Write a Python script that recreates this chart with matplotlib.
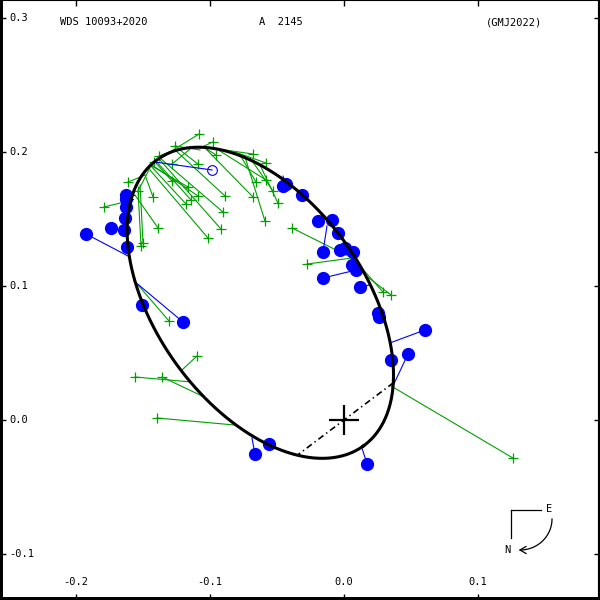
import numpy as np
import matplotlib
matplotlib.use("Agg")
import matplotlib.pyplot as plt

plt.rcParams['lines.scale_dashes'] = False

# ---------------- orbit (apparent ellipse, arcsec) ----------------
orb_center = (-0.06244, 0.08748)
orb_a = 0.13166
orb_b = 0.07760
orb_pa_deg = -54.276          # direction of major axis
node_deg = 37.0               # line of nodes through the primary

# ---------------- texts ----------------
title_left = "WDS 10093+2020"
title_mid = "A  2145"
title_right = "(GMJ2022)"
xticks = [-0.2, -0.1, 0.0, 0.1]
xtick_labels = ["-0.2", "-0.1", "0.0", "0.1"]
yticks = [0.3, 0.2, 0.1, 0.0, -0.1]
ytick_labels = ["0.3", "0.2", "0.1", "0.0", "-0.1"]

# ---------------- interferometric measures (blue): observed and predicted ----------------
blue_x = [-0.1925, -0.1739, -0.1642, -0.1634, -0.1627, -0.1627, -0.1627, -0.1619, -0.1507, -0.1201,
          -0.0664, -0.0560, 0.0172, 0.0351, 0.0478, 0.0604, 0.0254, 0.0261, 0.0119, -0.0157,
          -0.0157, -0.0194, -0.0090, -0.0045, -0.0030, 0.0007, 0.0067, 0.0060, 0.0090, -0.0313,
          -0.0455, -0.0433]
blue_y = [0.1388, 0.1433, 0.1418, 0.1507, 0.1590, 0.1649, 0.1679, 0.1291, 0.0858, 0.0731,
          -0.0254, -0.0179, -0.0328, 0.0448, 0.0493, 0.0672, 0.0799, 0.0769, 0.0993, 0.1060,
          0.1254, 0.1485, 0.1493, 0.1396, 0.1269, 0.1284, 0.1254, 0.1157, 0.1119, 0.1679,
          0.1746, 0.1761]
blue_px = [-0.1597, -0.1604, -0.1604, -0.1597, -0.1590, -0.1575, -0.1567, -0.1612, -0.1507, -0.1567,
           -0.0687, -0.0575, 0.0134, 0.0358, 0.0358, 0.0343, 0.0261, 0.0269, 0.0187, 0.0090,
           -0.0127, -0.0164, -0.0105, -0.0030, 0.0045, 0.0045, 0.0090, 0.0090, 0.0105, -0.0328,
           -0.0470, -0.0455]
blue_py = [0.1216, 0.1403, 0.1418, 0.1507, 0.1590, 0.1649, 0.1679, 0.1291, 0.0843, 0.1037,
           -0.0134, -0.0172, -0.0209, 0.0440, 0.0239, 0.0575, 0.0799, 0.0761, 0.1007, 0.1119,
           0.1448, 0.1530, 0.1470, 0.1366, 0.1269, 0.1269, 0.1210, 0.1157, 0.1119, 0.1701,
           0.1813, 0.1820]

# one measure plotted with an open circle
open_x, open_y = [-0.0985], [0.1866]
open_px, open_py = [-0.1410], [0.1925]

# ---------------- micrometer measures (green): observed and predicted ----------------
green_x = [-0.1791, 0.1261, -0.1560, -0.1358, -0.1097, -0.1396, -0.1306, -0.1082, -0.0978, -0.1261,
           -0.1381, -0.0955, -0.0679, -0.0582, -0.1418, -0.1284, -0.1090, -0.1612, -0.1284, -0.1164,
           -0.0657, -0.0582, -0.1537, -0.1425, -0.1090, -0.0888, -0.0679, -0.0530, -0.1179, -0.1142,
           -0.0493, -0.0903, -0.0590, -0.0388, -0.0276, 0.0291, 0.0351, -0.1388, -0.0918, -0.1015,
           -0.1500, -0.1515]
green_y = [0.1590, -0.0284, 0.0321, 0.0321, 0.0478, 0.0015, 0.0739, 0.2134, 0.2075, 0.2045,
           0.1970, 0.1978, 0.1985, 0.1918, 0.1925, 0.1910, 0.1910, 0.1776, 0.1784, 0.1739,
           0.1776, 0.1791, 0.1709, 0.1664, 0.1672, 0.1672, 0.1664, 0.1709, 0.1612, 0.1642,
           0.1619, 0.1552, 0.1485, 0.1433, 0.1164, 0.0955, 0.0933, 0.1433, 0.1425, 0.1358,
           0.1321, 0.1299]
green_px = [-0.1575, 0.0351, -0.1142, -0.1045, -0.1209, -0.0821, -0.1537, -0.1299, -0.1075, -0.1075,
            -0.1261, -0.1037, -0.0888, -0.0813, -0.1299, -0.1149, -0.1224, -0.1485, -0.1410, -0.1448,
            -0.0776, -0.0925, -0.1448, -0.1485, -0.1433, -0.1261, -0.1037, -0.0701, -0.1448, -0.1410,
            -0.0627, -0.1373, -0.0739, 0.0060, 0.0060, 0.0119, 0.0157, -0.1560, -0.1373, -0.1448,
            -0.1522, -0.1537]
green_py = [0.1642, 0.0254, 0.0284, 0.0172, 0.0373, -0.0037, 0.1007, 0.2000, 0.2030, 0.2015,
            0.2015, 0.2030, 0.2015, 0.2000, 0.1993, 0.2022, 0.2015, 0.1828, 0.1925, 0.1903,
            0.1978, 0.2007, 0.1881, 0.1828, 0.1903, 0.2015, 0.2030, 0.1955, 0.1903, 0.1940,
            0.1903, 0.1955, 0.1963, 0.1209, 0.1209, 0.1149, 0.1082, 0.1679, 0.1940, 0.1866,
            0.1754, 0.1716]

BLUE = '#0000ff'
GREEN = '#00a000'
FONT = 'DejaVu Sans Mono'
FS = 7.5

fig = plt.figure(figsize=(6, 6), dpi=100)
ax = fig.add_axes([0, 0, 1, 1])
ax.set_xlim(-0.25672, 0.19104)
ax.set_ylim(-0.13433, 0.31343)
ax.set_aspect('equal', adjustable='box')

# green O-C lines and crosses
for x0, y0, x1, y1 in zip(green_x, green_y, green_px, green_py):
    ax.plot([x0, x1], [y0, y1], color=GREEN, lw=0.8, zorder=2)
ax.plot(green_x, green_y, '+', color=GREEN, ms=6.5, mew=0.9, zorder=3, ls='none')

# blue O-C lines and dots
for x0, y0, x1, y1 in zip(blue_x, blue_y, blue_px, blue_py):
    ax.plot([x0, x1], [y0, y1], color=BLUE, lw=0.8, zorder=4)
for x0, y0, x1, y1 in zip(open_x, open_y, open_px, open_py):
    ax.plot([x0, x1], [y0, y1], color=BLUE, lw=0.8, zorder=4)
ax.plot(blue_x, blue_y, 'o', color=BLUE, ms=8.5, mec=BLUE, zorder=5, ls='none')
ax.plot(open_x, open_y, 'o', mfc='none', mec=BLUE, ms=7, mew=0.8, zorder=5, ls='none')

# orbit ellipse
t = np.linspace(0, 2 * np.pi, 600)
ca, sa = np.cos(np.radians(orb_pa_deg)), np.sin(np.radians(orb_pa_deg))
ex = orb_center[0] + orb_a * np.cos(t) * ca - orb_b * np.sin(t) * sa
ey = orb_center[1] + orb_a * np.cos(t) * sa + orb_b * np.sin(t) * ca
ax.plot(ex, ey, color='black', lw=2.2, zorder=6)

# line of nodes: intersections of the line through the origin with the ellipse
u = np.array([np.cos(np.radians(node_deg)), np.sin(np.radians(node_deg))])
e1 = np.array([ca, sa]); e2 = np.array([-sa, ca]); c = np.array(orb_center)
qa = (u @ e1) ** 2 / orb_a ** 2 + (u @ e2) ** 2 / orb_b ** 2
qb = -2 * ((c @ e1) * (u @ e1) / orb_a ** 2 + (c @ e2) * (u @ e2) / orb_b ** 2)
qc = (c @ e1) ** 2 / orb_a ** 2 + (c @ e2) ** 2 / orb_b ** 2 - 1
roots = np.roots([qa, qb, qc]).real
pts = np.array([r * u for r in roots])
ax.plot(pts[:, 0], pts[:, 1], color='black', lw=1.2, dashes=(4.5, 2.5, 1.0, 2.5), zorder=6)

# primary
ax.plot([0], [0], '+', color='black', ms=22, mew=1.6, zorder=7)

# frame and ticks
ax.set_xticks(xticks)
ax.set_yticks(yticks)
ax.tick_params(direction='in', length=4, width=1, top=True, right=True,
               labelbottom=False, labelleft=False, colors='black')
for side, lw in (('left', 4.3), ('bottom', 4.3), ('right', 3.0), ('top', 1.5)):
    ax.spines[side].set_linewidth(lw)

for xv, lab in zip(xticks, xtick_labels):
    ax.text(xv, 0.03, lab, transform=ax.get_xaxis_transform(), ha='center', va='center',
            family=FONT, fontsize=FS)
for yv, lab in zip(yticks, ytick_labels):
    ax.text(0.015, yv, lab, transform=ax.get_yaxis_transform(), ha='left', va='center',
            family=FONT, fontsize=FS)

ax.text(0.100, 0.9633, title_left, transform=ax.transAxes, ha='left', va='center', family=FONT, fontsize=FS)
ax.text(0.432, 0.9633, title_mid, transform=ax.transAxes, ha='left', va='center', family=FONT, fontsize=FS)
ax.text(0.810, 0.9633, title_right, transform=ax.transAxes, ha='left', va='center', family=FONT, fontsize=FS)

# compass (figure pixel overlay)
ov = fig.add_axes([0, 0, 1, 1], facecolor='none')
ov.set_xlim(0, 600); ov.set_ylim(600, 0); ov.axis('off')
ov.plot([511, 541], [510, 510], color='black', lw=0.9)
ov.plot([511, 511], [510, 538], color='black', lw=0.9)
ov.text(549, 509, "E", ha='center', va='center', family=FONT, fontsize=FS)
ov.text(507, 550, "N", ha='center', va='center', family=FONT, fontsize=FS)
tt = np.linspace(0, np.pi / 2, 50)
ov.plot(520 + 32 * np.cos(tt), 519 + 31 * np.sin(tt), color='black', lw=0.9)
ov.plot([526, 520, 526], [546.5, 550, 553.5], color='black', lw=0.9)

fig.savefig("out.png", dpi=100)
